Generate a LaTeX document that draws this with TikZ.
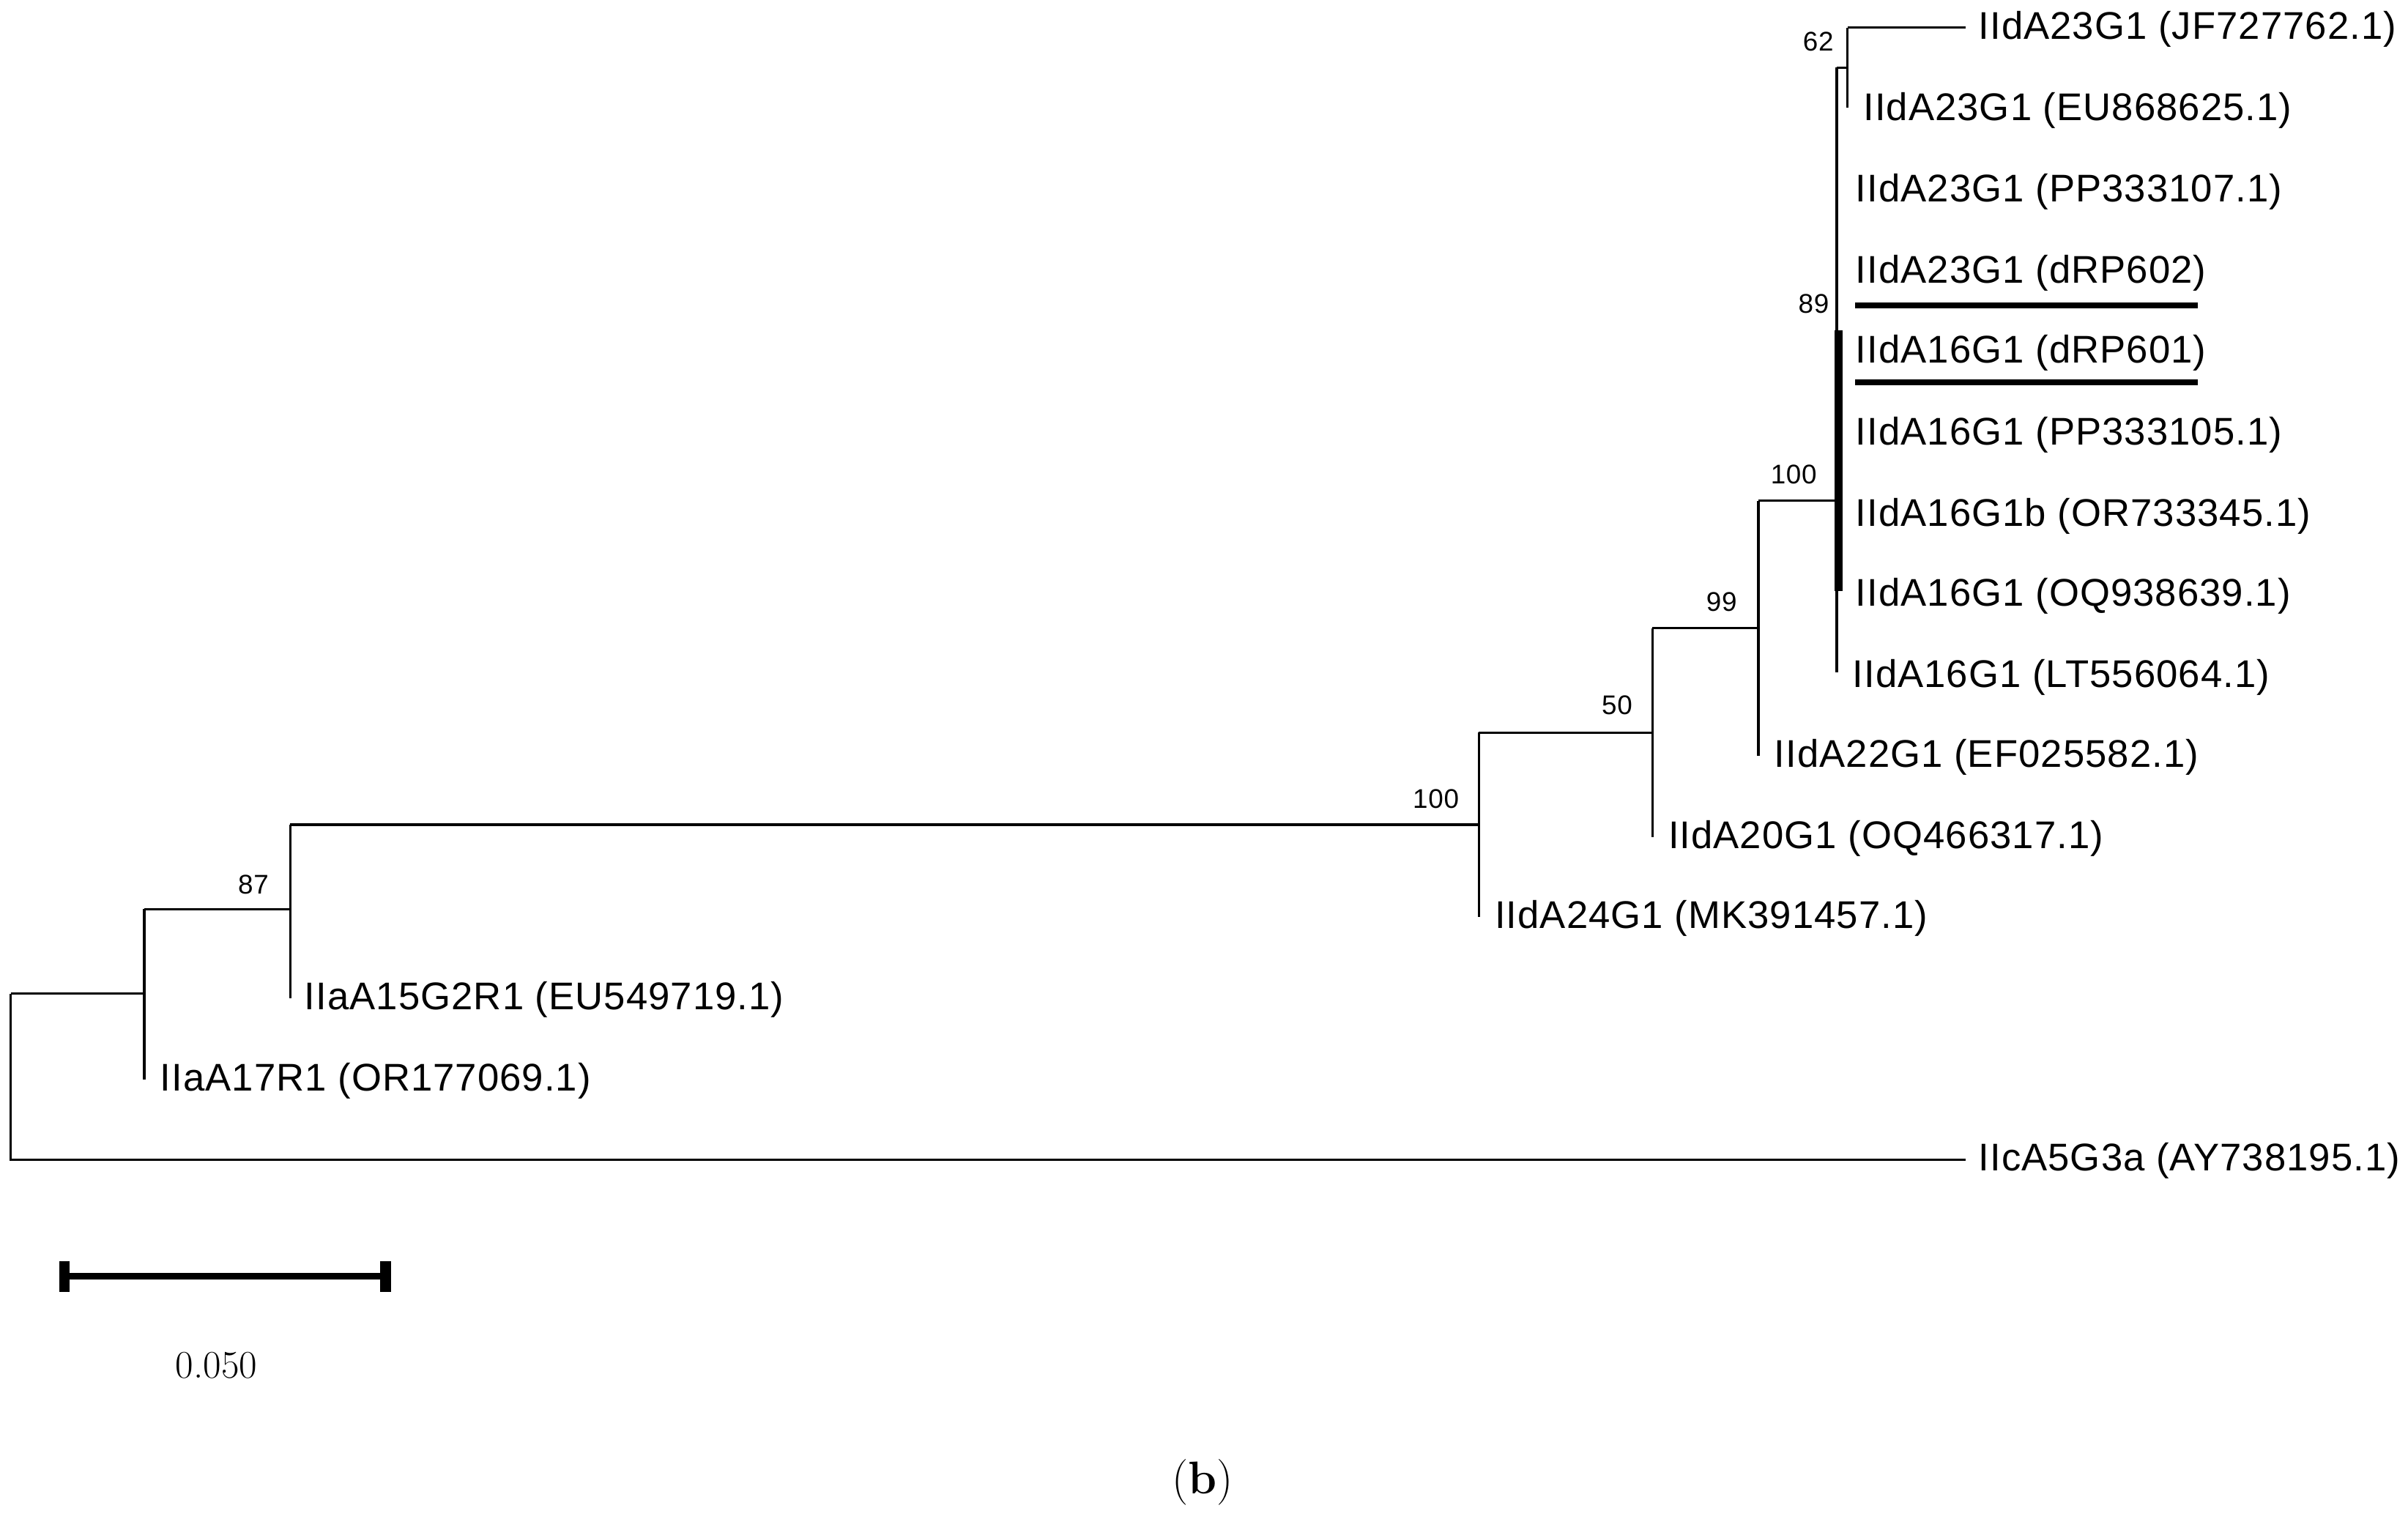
\documentclass[tikz,border=0pt]{standalone}
\usepackage{fontspec}
\setmainfont{Liberation Sans}[LetterSpace=2]
\newfontfamily\lmr{Latin Modern Roman}
\begin{document}
\begin{tikzpicture}[x=0.02cm,y=-0.02cm,
  br/.style={line width=0.9pt},
  leaf/.style={anchor=west,inner sep=0pt,font=\fontsize{14.3}{16}\selectfont},
  boot/.style={inner sep=0pt,font=\fontsize{10}{12}\selectfont}]
\useasboundingbox (0,0) rectangle (1568,989);
% coordinates
\coordinate (r1) at (7,647); \coordinate (r2) at (7,755);
\coordinate (a) at (94,647); \coordinate (a1) at (94,592); \coordinate (a2) at (94,703);
\coordinate (b) at (189,592); \coordinate (b1) at (189,537); \coordinate (b2) at (189,650);
\coordinate (c) at (963,537); \coordinate (c1) at (963,477); \coordinate (c2) at (963,597);
\coordinate (d) at (1076,477); \coordinate (d1) at (1076,409); \coordinate (d2) at (1076,545);
\coordinate (e) at (1145,409); \coordinate (e1) at (1145,326); \coordinate (e2) at (1145,492);
\coordinate (f) at (1196,326); \coordinate (f1) at (1196,44); \coordinate (f2) at (1196,438);
\coordinate (g) at (1203,44); \coordinate (g1) at (1203,18); \coordinate (g2) at (1203,70);
\coordinate (t1) at (1280,18); \coordinate (t2) at (1280,755);
% leaves
\node[leaf] (L1) at (1288,19) {IIdA23G1 (JF727762.1)};
\node[leaf] (L2) at (1213,72) {IIdA23G1 (EU868625.1)};
\node[leaf] (L3) at (1208,125) {IIdA23G1 (PP333107.1)};
\node[leaf] (L4) at (1208,178) {IIdA23G1 (dRP602)};
\node[leaf] (L5) at (1208,230) {IIdA16G1 (dRP601)};
\node[leaf] (L6) at (1208,283) {IIdA16G1 (PP333105.1)};
\node[leaf] (L7) at (1208,336) {IIdA16G1b (OR733345.1)};
\node[leaf] (L8) at (1208,388) {IIdA16G1 (OQ938639.1)};
\node[leaf] (L9) at (1206,441) {IIdA16G1 (LT556064.1)};
\node[leaf] (L10) at (1155,493) {IIdA22G1 (EF025582.1)};
\node[leaf] (L11) at (1086,546) {IIdA20G1 (OQ466317.1)};
\node[leaf] (L12) at (973,598) {IIdA24G1 (MK391457.1)};
\node[leaf] (L13) at (198,651) {IIaA15G2R1 (EU549719.1)};
\node[leaf] (L14) at (104,704) {IIaA17R1 (OR177069.1)};
\node[leaf] (L15) at (1288,756) {IIcA5G3a (AY738195.1)};
% bootstrap
\node[boot] (s62) at (1184,27) {62};
\node[boot] (s89) at (1181,198) {89};
\node[boot] (s100a) at (1168,309) {100};
\node[boot] (s99) at (1121,392) {99};
\node[boot] (s50) at (1053,459) {50};
\node[boot] (s100b) at (935,520) {100};
\node[boot] (s87) at (165,576) {87};
% branches
\draw[br] (r1) -- (r2) -- (t2);
\draw[br] (r1) -- (a); \draw[br] (a1) -- (a2);
\draw[br] (a1) -- (b); \draw[br] (b1) -- (b2);
\draw[br] (b1) -- (c); \draw[br] (c1) -- (c2);
\draw[br] (c1) -- (d); \draw[br] (d1) -- (d2);
\draw[br] (d1) -- (e); \draw[br] (e1) -- (e2);
\draw[br] (e1) -- (f); \draw[br] (f1) -- (f2);
\draw[br] (f1) -- (g); \draw[br] (g1) -- (g2);
\draw[br] (g1) -- (t1);
\draw[line width=3pt] (1197,215) -- (1197,385);
% underlines
\draw[line width=2.2pt] (1208,199) -- (1431,199);
\draw[line width=2.2pt] (1208,249) -- (1431,249);
% scale bar
\draw[line width=2.6pt] (42,831) -- (251,831);
\draw[line width=4pt] (42,821) -- (42,841);
\draw[line width=4pt] (251,821) -- (251,841);
\node[font=\lmr\fontsize{14.5}{16}\selectfont] (sc) at (141,889) {0.050};
\node[font=\lmr\fontsize{17}{19}\selectfont] (lab) at (783,965) {(\textbf{b})};
\end{tikzpicture}
\end{document}
